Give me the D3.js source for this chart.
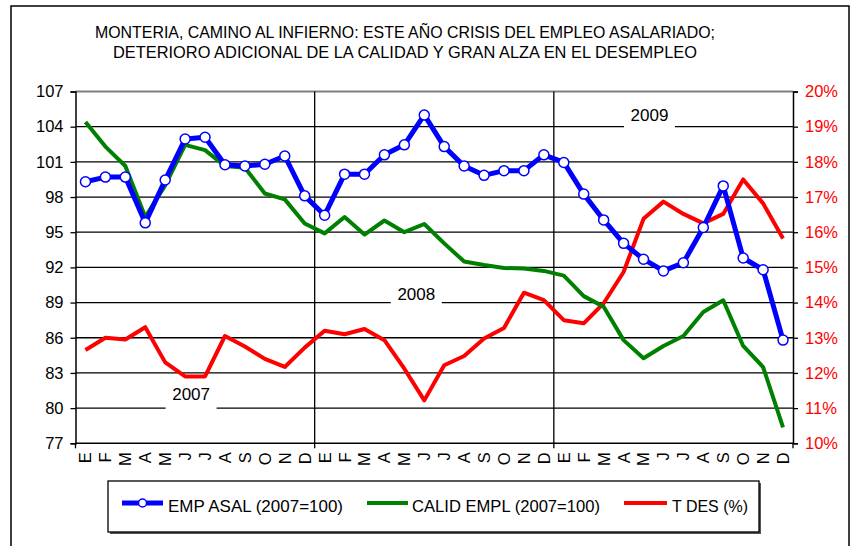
<!DOCTYPE html>
<html>
<head>
<meta charset="utf-8">
<script src="https://cdn.jsdelivr.net/npm/d3@7"></script>
<style>
  html, body { margin: 0; padding: 0; background: #fff; }
  svg text { font-family: "Liberation Sans", Arial, sans-serif; }
</style>
</head>
<body>
<svg id="chart" width="858" height="546"></svg>
<script>
// Months of each year and year labels
const months = ["E","F","M","A","M","J","J","A","S","O","N","D"];
const years = ["2007","2008","2009"];

// Empleo asalariado, index 2007=100 (Jan 2007 .. Dec 2009)
const empAsal = [
  99.3, 99.7, 99.7, 95.8, 99.45, 102.95, 103.1, 100.75, 100.65, 100.8, 101.5, 98.1,
  96.45, 99.95, 99.95, 101.6, 102.45, 105.0, 102.3, 100.65, 99.85, 100.25, 100.25, 101.6,
  100.95, 98.25, 96.05, 94.05, 92.7, 91.7, 92.4, 95.4, 98.95, 92.8, 91.8, 85.8
];

// Calidad del empleo, index 2007=100
const calidEmpl = [
  104.4, 102.3, 100.65, 96.3, 99.0, 102.45, 102.0, 100.65, 100.5, 98.3, 97.8, 95.75,
  94.9, 96.3, 94.8, 96.0, 95.0, 95.7, 94.05, 92.5, 92.2, 91.95, 91.9, 91.7,
  91.3, 89.55, 88.65, 85.8, 84.25, 85.3, 86.15, 88.2, 89.2, 85.3, 83.5, 78.35
];

// Tasa de desempleo (%)
const tDes = [
  12.65, 13.0, 12.95, 13.3, 12.3, 11.9, 11.9, 13.05, 12.75, 12.4, 12.17, 12.72,
  13.2, 13.1, 13.25, 12.93, 12.12, 11.22, 12.22, 12.48, 12.98, 13.28, 14.28, 14.07,
  13.5, 13.41, 13.98, 14.87, 16.38, 16.87, 16.52, 16.25, 16.52, 17.5, 16.82, 15.82
];

// Axis tick values
const leftTicks = [77, 80, 83, 86, 89, 92, 95, 98, 101, 104, 107];
const rightTicks = [10, 11, 12, 13, 14, 15, 16, 17, 18, 19, 20];

const titleLines = [
  "MONTERIA, CAMINO AL INFIERNO: ESTE AÑO CRISIS DEL EMPLEO ASALARIADO;",
  "DETERIORO ADICIONAL DE LA CALIDAD  Y GRAN ALZA EN EL DESEMPLEO"
];
const legendLabels = ["EMP ASAL (2007=100)", "CALID EMPL (2007=100)", "T DES (%)"];

const COLORS = { emp: "#0000ff", cal: "#008000", des: "#ff0000" };

const svg = d3.select("#chart");
const plot = { left: 75.5, right: 793, top: 91.5, bottom: 443.3 };

// Outer frame
svg.append("rect")
  .attr("x", 11).attr("y", 6).attr("width", 838).attr("height", 560)
  .attr("fill", "none").attr("stroke", "#000").attr("stroke-width", 1.5);

// Title
const titleWidths = [620, 584];
titleLines.forEach((t, i) => {
  svg.append("text")
    .attr("x", 405).attr("y", 38 + i * 20)
    .attr("text-anchor", "middle")
    .attr("font-size", 17)
    .attr("textLength", titleWidths[i])
    .attr("lengthAdjust", "spacingAndGlyphs")
    .text(t);
});

// Scales
const idx = d3.range(years.length * months.length);
const x = d3.scaleBand().domain(idx).range([plot.left, plot.right]).padding(0);
const cx = i => x(i) + x.bandwidth() / 2;
const xf = p => plot.left + (p + 0.5) * x.bandwidth(); // fractional category position
const yL = d3.scaleLinear().domain([77, 107]).range([plot.bottom, plot.top]);
const yR = d3.scaleLinear().domain([10, 20]).range([plot.bottom, plot.top]);

// Horizontal gridlines
svg.append("g").selectAll("line")
  .data(leftTicks.filter(v => v > 77))
  .join("line")
  .attr("x1", plot.left).attr("x2", plot.right)
  .attr("y1", d => yL(d)).attr("y2", d => yL(d))
  .attr("stroke", d => d === 107 ? "#808080" : "#000")
  .attr("stroke-width", d => d === 107 ? 2 : 1.3);

// Year separators
svg.append("g").selectAll("line")
  .data([12, 24])
  .join("line")
  .attr("x1", d => x(d)).attr("x2", d => x(d))
  .attr("y1", plot.top).attr("y2", plot.bottom + 5)
  .attr("stroke", "#000").attr("stroke-width", 1.3);

// Year labels sitting on a gridline, with white backing
const yearPos = [
  { year: years[0], p: 5.3, v: 80, dy: -8 },
  { year: years[1], p: 16.6, v: 89, dy: -2.7 },
  { year: years[2], p: 28.3, v: 104, dy: -5.7 }
];
yearPos.forEach(p => {
  const xm = xf(p.p);
  const base = yL(p.v) + p.dy;
  svg.append("rect")
    .attr("x", xm - 25.5).attr("y", base - 15).attr("width", 51).attr("height", 25)
    .attr("fill", "#fff");
  svg.append("text")
    .attr("x", xm).attr("y", base).attr("text-anchor", "middle")
    .attr("font-size", 17).attr("fill", "#000")
    .text(p.year);
});

// Left axis
const leftAxis = d3.axisLeft(yL).tickValues(leftTicks).tickSize(5).tickPadding(7);
const gl = svg.append("g").attr("transform", `translate(${plot.left},0)`).call(leftAxis);
gl.select(".domain").attr("stroke", "#000").attr("stroke-width", 1.5);
gl.selectAll(".tick line").attr("stroke", "#000").attr("stroke-width", 1.3);
gl.selectAll(".tick text").attr("font-size", 16.5).attr("fill", "#000")
  .attr("font-family", "Liberation Sans, Arial, sans-serif");

// Right axis
const rightAxis = d3.axisRight(yR).tickValues(rightTicks).tickSize(5).tickPadding(7)
  .tickFormat(d => d + "%");
const gr = svg.append("g").attr("transform", `translate(${plot.right},0)`).call(rightAxis);
gr.select(".domain").attr("stroke", "#000").attr("stroke-width", 1.5);
gr.selectAll(".tick line").attr("stroke", "#000").attr("stroke-width", 1.3);
gr.selectAll(".tick text").attr("font-size", 16.5).attr("fill", COLORS.des)
  .attr("font-family", "Liberation Sans, Arial, sans-serif");

// Bottom axis line
svg.append("line")
  .attr("x1", plot.left).attr("x2", plot.right)
  .attr("y1", plot.bottom).attr("y2", plot.bottom)
  .attr("stroke", "#000").attr("stroke-width", 1.5);
svg.append("g").selectAll("line")
  .data([0, 36])
  .join("line")
  .attr("x1", d => d === 36 ? plot.right : x(d)).attr("x2", d => d === 36 ? plot.right : x(d))
  .attr("y1", plot.bottom).attr("y2", plot.bottom + 5)
  .attr("stroke", "#000").attr("stroke-width", 1.3);

// Month labels, rotated
svg.append("g").selectAll("text")
  .data(idx)
  .join("text")
  .attr("transform", d => `translate(${cx(d)},${plot.bottom + 9}) rotate(-90)`)
  .attr("text-anchor", "end")
  .attr("dy", "0.36em")
  .attr("font-size", 16.5)
  .text(d => months[d % 12]);

// Series lines
const lineL = d3.line().x((d, i) => cx(i)).y(d => yL(d));
const lineR = d3.line().x((d, i) => cx(i)).y(d => yR(d));

svg.append("path").datum(tDes).attr("d", lineR)
  .attr("fill", "none").attr("stroke", COLORS.des).attr("stroke-width", 4)
  .attr("stroke-linejoin", "round");
svg.append("path").datum(calidEmpl).attr("d", lineL)
  .attr("fill", "none").attr("stroke", COLORS.cal).attr("stroke-width", 4)
  .attr("stroke-linejoin", "round");
svg.append("path").datum(empAsal).attr("d", lineL)
  .attr("fill", "none").attr("stroke", COLORS.emp).attr("stroke-width", 5)
  .attr("stroke-linejoin", "round");
svg.append("g").selectAll("circle")
  .data(empAsal)
  .join("circle")
  .attr("cx", (d, i) => cx(i)).attr("cy", d => yL(d)).attr("r", 5)
  .attr("fill", "#fff").attr("stroke", COLORS.emp).attr("stroke-width", 1.5);

// Legend
const lg = svg.append("g");
lg.append("rect").attr("x", 110).attr("y", 483).attr("width", 651).attr("height", 51)
  .attr("fill", "#555");
lg.append("rect").attr("x", 108).attr("y", 481).attr("width", 651).attr("height", 51)
  .attr("fill", "#fff").attr("stroke", "#000").attr("stroke-width", 1.3);

const legendItems = [
  { x1: 122, x2: 163, tx: 168, tw: 175, color: COLORS.emp, w: 5, marker: true },
  { x1: 367, x2: 408, tx: 412, tw: 188, color: COLORS.cal, w: 4, marker: false },
  { x1: 624, x2: 667, tx: 672, tw: 76, color: COLORS.des, w: 4, marker: false }
];
legendItems.forEach((it, k) => {
  lg.append("line").attr("x1", it.x1).attr("x2", it.x2).attr("y1", 503).attr("y2", 503)
    .attr("stroke", it.color).attr("stroke-width", it.w);
  if (it.marker) {
    lg.append("circle").attr("cx", (it.x1 + it.x2) / 2).attr("cy", 503).attr("r", 4)
      .attr("fill", "#fff").attr("stroke", it.color).attr("stroke-width", 1.5);
  }
  lg.append("text").attr("x", it.tx).attr("y", 512)
    .attr("font-size", 17)
    .attr("textLength", it.tw).attr("lengthAdjust", "spacingAndGlyphs")
    .text(legendLabels[k]);
});
</script>
</body>
</html>
